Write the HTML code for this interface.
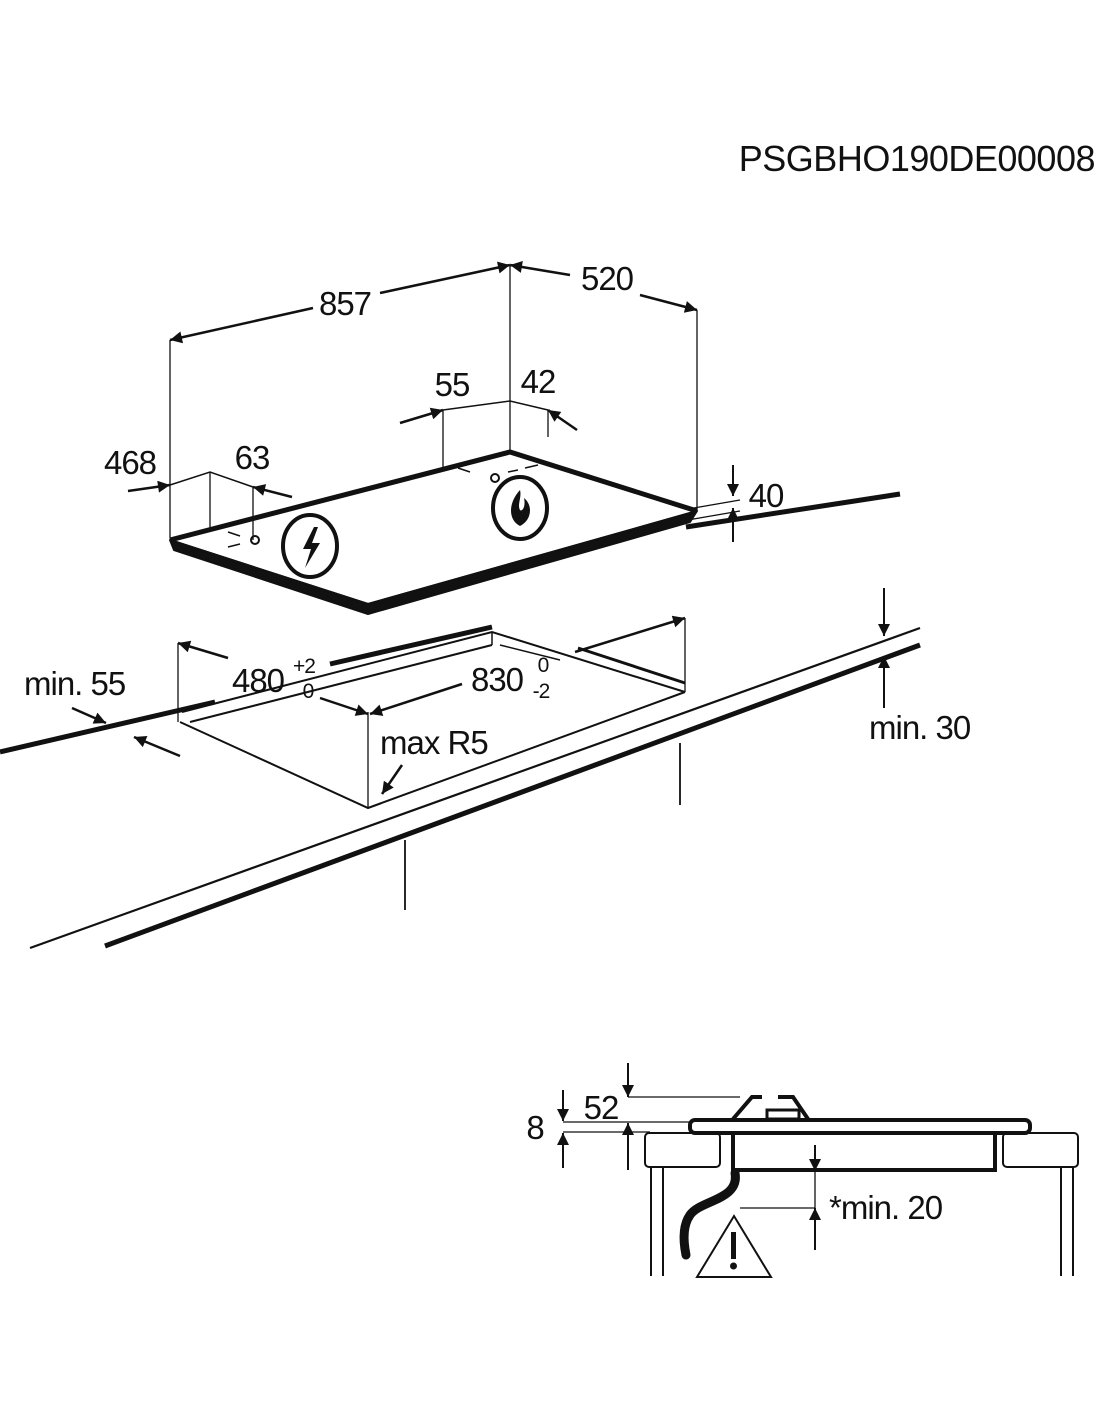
<!DOCTYPE html>
<html><head><meta charset="utf-8"><style>
html,body{margin:0;padding:0;background:#fff;}
svg{display:block}
text{font-family:"Liberation Sans",sans-serif;fill:#111}
</style></head><body>
<svg width="1100" height="1422" viewBox="0 0 1100 1422" xmlns="http://www.w3.org/2000/svg">
<defs>
<marker id="b" viewBox="0 0 10 10" refX="10" refY="5" markerWidth="16" markerHeight="12" orient="auto-start-reverse" markerUnits="userSpaceOnUse"><path d="M0,0 L10,5 L0,10 z" fill="#111"/></marker>
</defs>
<text x="1095" y="171" font-size="36" text-anchor="end" letter-spacing="-0.5">PSGBHO190DE00008</text>

<g stroke="#111" fill="none">
<path d="M170,340V538 M510,265V452 M697,310V511 M443,410V467 M548,410V437 M210,472V528 M253,487V540" stroke-width="1.3"/>
<line x1="313" y1="308" x2="170" y2="340" stroke-width="2.5" marker-end="url(#b)"/>
<line x1="380" y1="293" x2="510" y2="265" stroke-width="2.5" marker-end="url(#b)"/>
<line x1="570" y1="275" x2="510" y2="265" stroke-width="2.5" marker-end="url(#b)"/>
<line x1="640" y1="295" x2="697" y2="310" stroke-width="2.5" marker-end="url(#b)"/>
<path d="M443,410 L510,401 L548,410" stroke-width="1.5"/>
<line x1="400" y1="423" x2="443" y2="410" stroke-width="2.5" marker-end="url(#b)"/>
<line x1="577" y1="430" x2="548" y2="410" stroke-width="2.5" marker-end="url(#b)"/>
<path d="M170,485 L210,472 L253,487" stroke-width="1.5"/>
<line x1="128" y1="491" x2="170" y2="485" stroke-width="2.5" marker-end="url(#b)"/>
<line x1="292" y1="497" x2="253" y2="487" stroke-width="2.5" marker-end="url(#b)"/>
<line x1="733" y1="465" x2="733" y2="496" stroke-width="2" marker-end="url(#b)"/>
<line x1="733" y1="542" x2="733" y2="508" stroke-width="2" marker-end="url(#b)"/>
<path d="M688,509 L740,500 M682,521 L740,511" stroke-width="1.3"/>
<path d="M170,540 L510,452 L697,511" stroke-width="5"/>
<polygon points="170,540 368,604 697,511 690,522 368,614 174,550" fill="#111" stroke-width="2" stroke-linejoin="round"/>
<path d="M170,540 L368,604 L697,511" stroke-width="2"/>
<path d="M686,527 L900,494" stroke-width="5"/>
<ellipse cx="310" cy="546" rx="27" ry="31" stroke-width="4"/>
<ellipse cx="520" cy="508" rx="27" ry="31" stroke-width="4"/>
<circle cx="255" cy="540" r="4" stroke-width="2"/>
<circle cx="495" cy="478" r="4" stroke-width="2"/>
<path d="M228,532 L240,536 M228,547 L240,544 M458,468 L470,472 M508,472 L518,470 M525,468 L538,465" stroke-width="1.5"/>
</g>
<path d="M314,527 L303,549 L311,549 L305,568 L320,543 L312,543 L318,527 z" fill="#111"/>
<path d="M520,490 C508,503 508,520 520,526 C532,520 533,505 524,498 C526,507 522,512 520,510 C517,505 522,497 520,490 z" fill="#111"/>

<g font-size="33" text-anchor="middle" letter-spacing="-1">
<text x="345" y="315">857</text>
<text x="607" y="290">520</text>
<text x="452" y="396">55</text>
<text x="538" y="393">42</text>
<text x="130" y="474">468</text>
<text x="252" y="469">63</text>
<text x="766" y="507">40</text>
</g>

<g stroke="#111" fill="none">
<path d="M0,752 L215,702" stroke-width="5"/>
<path d="M330,664 L492,627" stroke-width="5"/>
<path d="M180,722 L368,808 L685,692" stroke-width="2"/>
<path d="M182,712 L492,632 L685,692" stroke-width="2"/>
<path d="M190,722 L492,645" stroke-width="2"/>
<path d="M492,632 V645 M500,645 L560,660" stroke-width="1.5"/>
<path d="M578,648 L685,683" stroke-width="3"/>
<path d="M178,643V722 M685,618V692 M368,712V808" stroke-width="1.3"/>
<line x1="228" y1="658" x2="178" y2="643" stroke-width="2.5" marker-end="url(#b)"/>
<line x1="320" y1="698" x2="368" y2="714" stroke-width="2.5" marker-end="url(#b)"/>
<line x1="462" y1="684" x2="370" y2="714" stroke-width="2.5" marker-end="url(#b)"/>
<line x1="575" y1="652" x2="685" y2="618" stroke-width="2.5" marker-end="url(#b)"/>
<path d="M30,948 L920,628" stroke-width="2.2"/>
<path d="M105,946 L920,645" stroke-width="5"/>
<path d="M405,840V910 M680,743V805" stroke-width="1.8"/>
<line x1="884" y1="588" x2="884" y2="636" stroke-width="2" marker-end="url(#b)"/>
<line x1="884" y1="708" x2="884" y2="656" stroke-width="2" marker-end="url(#b)"/>
<line x1="72" y1="708" x2="106" y2="723" stroke-width="2.5" marker-end="url(#b)"/>
<line x1="180" y1="756" x2="134" y2="737" stroke-width="2.5" marker-end="url(#b)"/>
<line x1="402" y1="765" x2="382" y2="794" stroke-width="2.5" marker-end="url(#b)"/>
</g>
<g letter-spacing="-1">
<text x="258" y="692" font-size="33" text-anchor="middle">480</text>
<text x="304" y="673" font-size="21" text-anchor="middle">+2</text>
<text x="308" y="698" font-size="21" text-anchor="middle">0</text>
<text x="497" y="691" font-size="33" text-anchor="middle">830</text>
<text x="543" y="672" font-size="21" text-anchor="middle">0</text>
<text x="541" y="698" font-size="21" text-anchor="middle">-2</text>
<text x="24" y="695" font-size="33">min. 55</text>
<text x="380" y="754" font-size="33">max R5</text>
<text x="869" y="739" font-size="33">min. 30</text>
</g>

<g stroke="#111" fill="none">
<rect x="645" y="1133" width="75" height="34" rx="4" stroke-width="2"/>
<rect x="1003" y="1133" width="75" height="34" rx="4" stroke-width="2"/>
<path d="M651,1167V1276 M663,1167V1276 M1061,1167V1276 M1073,1167V1276" stroke-width="2"/>
<rect x="690" y="1120" width="340" height="13" rx="5" stroke-width="4"/>
<path d="M733,1135 V1170 H995 V1135" stroke-width="4"/>
<path d="M733,1119 L752,1097 H762 M778,1097 H793 L808,1119" stroke-width="4"/>
<rect x="767" y="1110" width="32" height="9" stroke-width="3"/>
<path d="M735,1173 C740,1200 700,1200 690,1215 C683,1225 683,1240 686,1255" stroke-width="9" stroke-linecap="round"/>
<polygon points="697,1277 734,1216 771,1277" stroke-width="2"/>
<path d="M563,1122 H692 M563,1132 H650 M628,1097 H740 M740,1208 H815 M815,1170 V1208" stroke-width="1.3"/>
<line x1="563" y1="1090" x2="563" y2="1121" stroke-width="2" marker-end="url(#b)"/>
<line x1="563" y1="1168" x2="563" y2="1133" stroke-width="2" marker-end="url(#b)"/>
<line x1="628" y1="1063" x2="628" y2="1097" stroke-width="2" marker-end="url(#b)"/>
<line x1="628" y1="1170" x2="628" y2="1123" stroke-width="2" marker-end="url(#b)"/>
<line x1="815" y1="1145" x2="815" y2="1171" stroke-width="2" marker-end="url(#b)"/>
<line x1="815" y1="1250" x2="815" y2="1208" stroke-width="2" marker-end="url(#b)"/>
</g>
<rect x="731" y="1232" width="5" height="27" fill="#111"/>
<circle cx="733.5" cy="1266" r="3.5" fill="#111"/>
<g letter-spacing="-1">
<text x="535" y="1139" font-size="33" text-anchor="middle">8</text>
<text x="601" y="1119" font-size="33" text-anchor="middle">52</text>
<text x="829" y="1219" font-size="33">*min. 20</text>
</g>
</svg>
</body></html>
